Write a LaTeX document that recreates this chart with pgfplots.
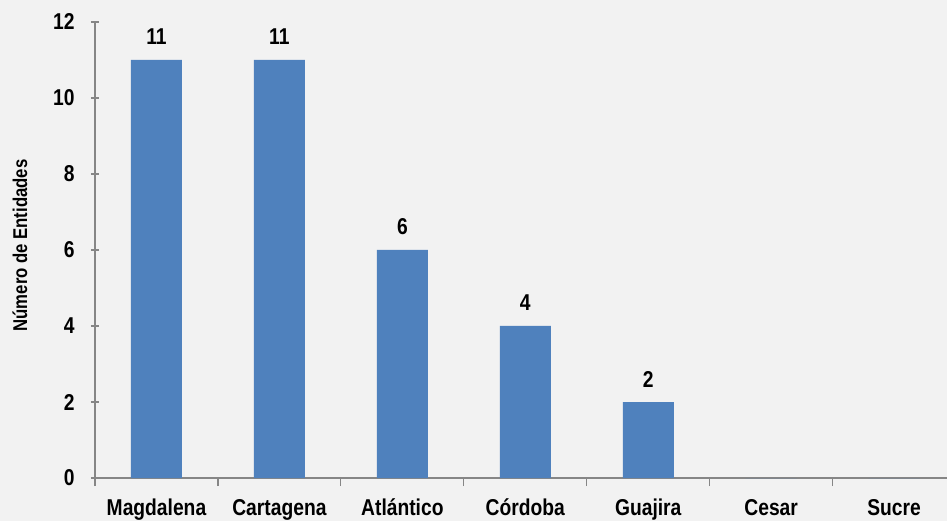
\documentclass[border=0pt]{standalone}
\usepackage{fontspec}
\setmainfont{Liberation Sans}[FakeStretch=0.84]
\usepackage{pgfplots}
\pgfplotsset{compat=1.18}
\definecolor{bg}{HTML}{F2F2F2}
\definecolor{barblue}{HTML}{4F81BD}
\definecolor{axgray}{HTML}{868686}
\begin{document}
\begin{tikzpicture}
\fill[bg] (-95bp,-43bp) rectangle (852bp,478bp);
\useasboundingbox (-95bp,-43bp) rectangle (852bp,478bp);
\begin{axis}[
  scale only axis,
  width=852bp, height=456bp,
  xmin=-0.5, xmax=6.43,
  ymin=0, ymax=12,
  ytick={0,2,...,12},
  axis x line=bottom, axis y line=left,
  axis line style={-, axgray, line width=1.2pt},
  xtick={-0.5,0.5,...,5.5},
  xticklabels={},
  extra x ticks={0,1,2,3,4,5,6},
  extra x tick labels={Magdalena,Cartagena,Atlántico,Córdoba,Guajira,Cesar,Sucre},
  extra x tick style={major tick length=0pt, tick style={draw=none}},
  tick style={axgray, line width=1.2pt},
  major tick length=8bp,
  x tick label style={anchor=base, yshift=-37bp},
  y tick label style={anchor=east, xshift=-13bp},
  tick label style={font=\fontsize{23}{26}\selectfont\bfseries},
  /pgf/number format/assume math mode=true,
  ylabel={Número de Entidades},
  ylabel style={font=\fontsize{20}{24}\selectfont\bfseries, at={(axis description cs:-0.088,0.51)}, anchor=center},
  ybar, bar width=51bp,
  nodes near coords,
  point meta=explicit symbolic,
  nodes near coords style={font=\fontsize{23}{26}\selectfont\bfseries, anchor=base, yshift=15bp},
]
\addplot[fill=barblue, draw=none] coordinates {
  (0,11) [11]
  (1,11) [11]
  (2,6) [6]
  (3,4) [4]
  (4,2) [2]
  (5,0) []
  (6,0) []
};
\end{axis}
\end{tikzpicture}
\end{document}
